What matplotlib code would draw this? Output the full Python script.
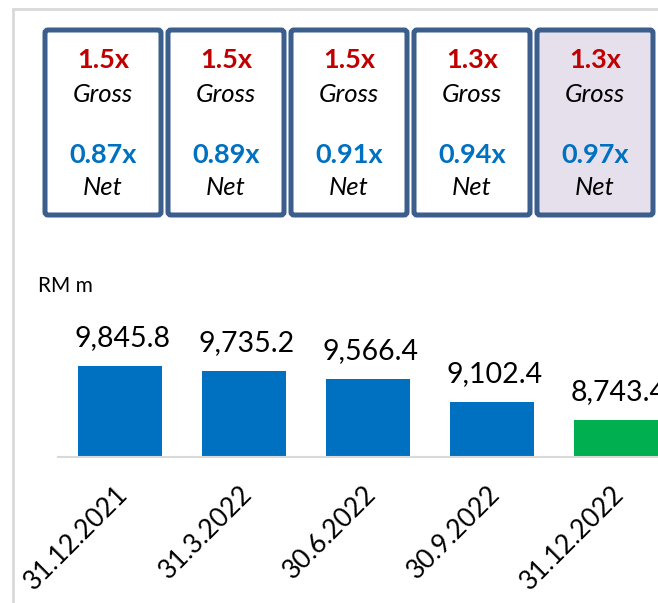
import matplotlib.pyplot as plt
from matplotlib.patches import FancyBboxPatch

plt.rcParams['font.family'] = ['Lato', 'DejaVu Sans']

# data
dates = ['31.12.2021', '31.3.2022', '30.6.2022', '30.9.2022', '31.12.2022']
values = [9845.8, 9735.2, 9566.4, 9102.4, 8743.4]
gross = ['1.5x', '1.5x', '1.5x', '1.3x', '1.3x']
net = ['0.87x', '0.89x', '0.91x', '0.94x', '0.97x']
bar_colors = ['#0070c0', '#0070c0', '#0070c0', '#0070c0', '#00b050']
box_fill = ['white', 'white', 'white', 'white', '#e6e0ec']

W, H = 658, 603
fig = plt.figure(figsize=(W / 100, H / 100), dpi=100)

# layout layer in pixel coords (frame, boxes, unit label)
lay = fig.add_axes([0, 0, 1, 1])
lay.set_xlim(0, W)
lay.set_ylim(H, 0)
lay.axis('off')

lay.plot([13, 13, W], [H, 9, 9], color='#d9d9d9', lw=2, solid_joinstyle='miter')

for i in range(5):
    x0 = 45 + i * 123
    box = FancyBboxPatch((x0, 30), 116, 185, boxstyle='round,pad=0,rounding_size=3',
                         fc=box_fill[i], ec='#3b5e8c', lw=3.6)
    lay.add_patch(box)
    cx = x0 + 58
    lay.text(cx, 68, gross[i], ha='center', va='baseline', fontsize=19.5,
             fontweight='bold', color='#c00000')
    lay.text(cx, 102, 'Gross', ha='center', va='baseline', fontsize=18.5,
             style='italic', color='black')
    lay.text(cx, 163, net[i], ha='center', va='baseline', fontsize=19.5,
             fontweight='bold', color='#0070c0')
    lay.text(cx, 195, 'Net', ha='center', va='baseline', fontsize=18.5,
             style='italic', color='black')

lay.text(38, 292, 'RM m', ha='left', va='baseline', fontsize=15, color='black')

# bar chart
ax = fig.add_axes([58 / W, (H - 457) / H, 620 / W, 157 / H])
ax.patch.set_alpha(0)
x = range(len(values))
ax.bar(x, values, width=0.67, color=bar_colors)
ax.set_xlim(-0.5, 4.5)
ax.set_ylim(8000, 8000 + 157 * 20.2)

for s in ['top', 'right', 'left']:
    ax.spines[s].set_visible(False)
ax.spines['bottom'].set_color('#d9d9d9')
ax.spines['bottom'].set_linewidth(1.5)
ax.set_yticks([])
ax.set_xticks([])

for i, v in enumerate(values):
    ax.annotate(f'{v:,.1f}', xy=(i, v), xytext=(3, 20), textcoords='offset pixels',
                ha='center', va='baseline', fontsize=20.5, color='black',
                annotation_clip=False)
    ax.annotate(dates[i], xy=(i, 0), xycoords=ax.get_xaxis_transform(),
                xytext=(-5, -24), textcoords='offset pixels', ha='right', va='top',
                rotation=45, rotation_mode='anchor', fontsize=19, color='black',
                annotation_clip=False)

fig.savefig('out.png', dpi=100)
